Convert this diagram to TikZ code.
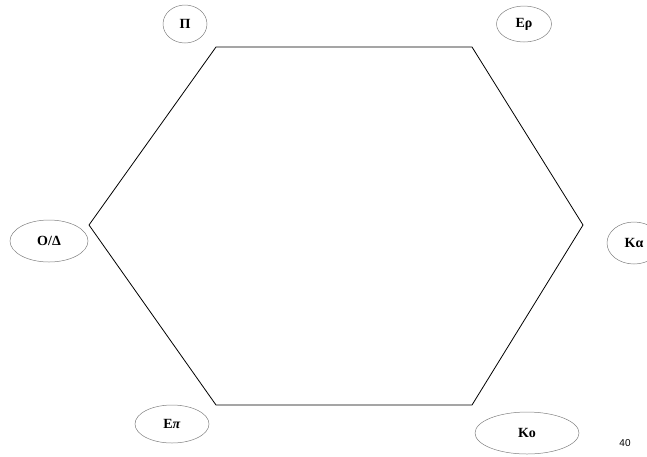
\documentclass[tikz,border=0pt]{standalone}
\usepackage{fontspec}
\setmainfont{Liberation Serif}
\newfontfamily\numfont{Liberation Sans}
\usetikzlibrary{shapes.geometric}
\begin{document}
\begin{tikzpicture}[x=1pt,y=-1pt,
  lbl/.style={ellipse,draw=gray,line width=0.5pt,inner sep=0pt,font=\fontsize{14}{16}\selectfont\bfseries},
  hexline/.style={line width=0.8pt,black}]
\useasboundingbox (0,0) rectangle (647,456);
\coordinate (v1) at (216,47);
\coordinate (v2) at (472,47);
\coordinate (v3) at (583,225);
\coordinate (v4) at (472,405);
\coordinate (v5) at (216,405);
\coordinate (v6) at (89,225);
\draw[hexline] (v1) -- (v2) -- (v3) -- (v4) -- (v5) -- (v6) -- cycle;
\node[lbl,minimum width=44pt,minimum height=38pt] (p) at (185,24) {Π};
\node[lbl,minimum width=55pt,minimum height=36pt] (er) at (524,24) {Eρ};
\node[lbl,minimum width=78pt,minimum height=42pt] (od) at (49,241) {O/Δ};
\node[lbl,minimum width=54pt,minimum height=42pt] (ka) at (634,243) {Kα};
\node[lbl,minimum width=74pt,minimum height=38pt] (ep) at (172,424) {E\textit{π}};
\node[lbl,minimum width=104pt,minimum height=42pt] (ko) at (527,433) {Ko};
\node[font=\numfont\fontsize{10}{12}\selectfont] (n) at (625,443) {40};
\end{tikzpicture}
\end{document}
